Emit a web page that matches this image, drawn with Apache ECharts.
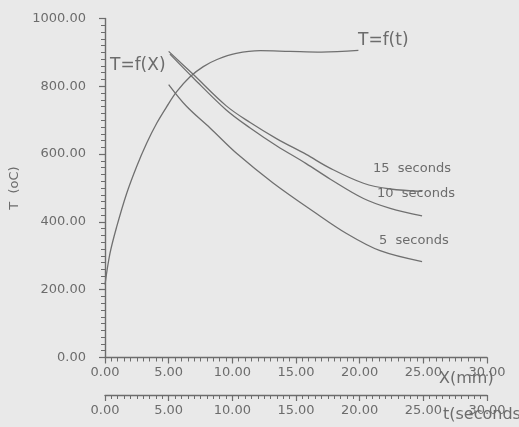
<!DOCTYPE html>
<html>
<head>
<meta charset="utf-8">
<script src="https://cdn.jsdelivr.net/npm/echarts@6/dist/echarts.min.js"></script>
<style>
html,body{margin:0;padding:0;background:#e9e9e9;}
#c{width:519px;height:427px;}
</style>
</head>
<body>
<div id="c"></div>
<script>
// T = f(t) curve (against the t axis)
const tSeconds = [0, 0.39, 0.92, 1.7, 2.48, 3.27, 4.06, 4.85, 5.63, 6.68, 7.72, 8.8, 10.3, 12.2, 14.5, 17, 19.9];
const tTemp    = [215, 307, 386, 484, 563, 632, 691, 740, 784, 828, 858, 879, 897, 905, 903, 901, 906];

// T = f(X) curves (against the X axis)
const x15 = [5.0, 6.9, 9.5, 11.4, 13.5, 15.8, 17.7, 20.3, 22.4, 24.9];
const T15 = [903, 836, 743, 693, 645, 599, 558, 514, 497, 490];
const x10 = [5.1, 6.9, 9.5, 11.4, 13.5, 15.8, 17.7, 20.3, 22.4, 24.9];
const T10 = [895, 826, 731, 677, 624, 572, 526, 469, 440, 418];
const x5  = [5.0, 6.4, 8.25, 10.4, 13.2, 16.4, 19.0, 21.6, 24.9];
const T5  = [805, 741, 677, 600, 515, 430, 365, 315, 283];

const yTicks = [0, 200, 400, 600, 800, 1000];
const xTicks = [0, 5, 10, 15, 20, 25, 30];

const pairs = (xs, ys) => xs.map((x, i) => [x, ys[i]]);

const grey = '#6c6c6c';
const lineGrey = '#707070';
const font = 'DejaVu Sans';

function xAxisDef(offset) {
  return {
    type: 'value', position: 'bottom', offset: offset,
    min: xTicks[0], max: xTicks[xTicks.length - 1], interval: xTicks[1] - xTicks[0],
    axisLine: {show: true, onZero: false, lineStyle: {color: grey, width: 1.4}},
    axisTick: {show: true, length: 6, lineStyle: {color: grey, width: 1.2}},
    minorTick: {show: true, splitNumber: 10, length: 4, lineStyle: {color: grey, width: 1}},
    splitLine: {show: false},
    axisLabel: {color: grey, fontFamily: font, fontSize: 13, margin: 9,
      formatter: v => v.toFixed(2)}
  };
}

const chart = echarts.init(document.getElementById('c'), null, {renderer: 'canvas'});
const lineStyle = {color: lineGrey, width: 1.3};
chart.setOption({
  backgroundColor: '#e9e9e9',
  animation: false,
  grid: {left: 105, right: 32, top: 18.5, bottom: 69.5},
  xAxis: [xAxisDef(0), xAxisDef(37.5)],
  yAxis: {
    type: 'value', min: yTicks[0], max: yTicks[yTicks.length - 1], interval: yTicks[1] - yTicks[0],
    name: 'T  (oC)', nameLocation: 'middle', nameGap: 80, nameRotate: 90,
    nameTextStyle: {color: grey, fontFamily: font, fontSize: 13},
    axisLine: {show: true, lineStyle: {color: grey, width: 1.4}},
    axisTick: {show: true, length: 6, lineStyle: {color: grey, width: 1.2}},
    minorTick: {show: true, splitNumber: 10, length: 4, lineStyle: {color: grey, width: 1}},
    splitLine: {show: false},
    axisLabel: {color: grey, fontFamily: font, fontSize: 13, margin: 19,
      formatter: v => v.toFixed(2)}
  },
  series: [
    {type: 'line', name: 'T=f(t)', xAxisIndex: 1, data: pairs(tSeconds, tTemp), smooth: 0.35,
     showSymbol: false, lineStyle: lineStyle},
    {type: 'line', name: '15 seconds', xAxisIndex: 0, data: pairs(x15, T15), smooth: 0.35,
     showSymbol: false, lineStyle: lineStyle},
    {type: 'line', name: '10 seconds', xAxisIndex: 0, data: pairs(x10, T10), smooth: 0.35,
     showSymbol: false, lineStyle: lineStyle},
    {type: 'line', name: '5 seconds', xAxisIndex: 0, data: pairs(x5, T5), smooth: 0.35,
     showSymbol: false, lineStyle: lineStyle}
  ],
  graphic: [
    {type: 'text', left: 110, top: 57, style: {text: 'T=f(X)', fill: grey, font: '17px "DejaVu Sans"'}},
    {type: 'text', left: 358, top: 32, style: {text: 'T=f(t)', fill: grey, font: '17px "DejaVu Sans"'}},
    {type: 'text', left: 373, top: 162, style: {text: '15  seconds', fill: grey, font: '13px "DejaVu Sans"'}},
    {type: 'text', left: 377, top: 187, style: {text: '10  seconds', fill: grey, font: '13px "DejaVu Sans"'}},
    {type: 'text', left: 379, top: 234, style: {text: '5  seconds', fill: grey, font: '13px "DejaVu Sans"'}},
    {type: 'text', left: 439, top: 371, style: {text: 'X(mm)', fill: grey, font: '16px "DejaVu Sans"'}},
    {type: 'text', left: 443, top: 407, style: {text: 't(seconds)', fill: grey, font: '16px "DejaVu Sans"'}}
  ]
});
</script>
</body>
</html>
